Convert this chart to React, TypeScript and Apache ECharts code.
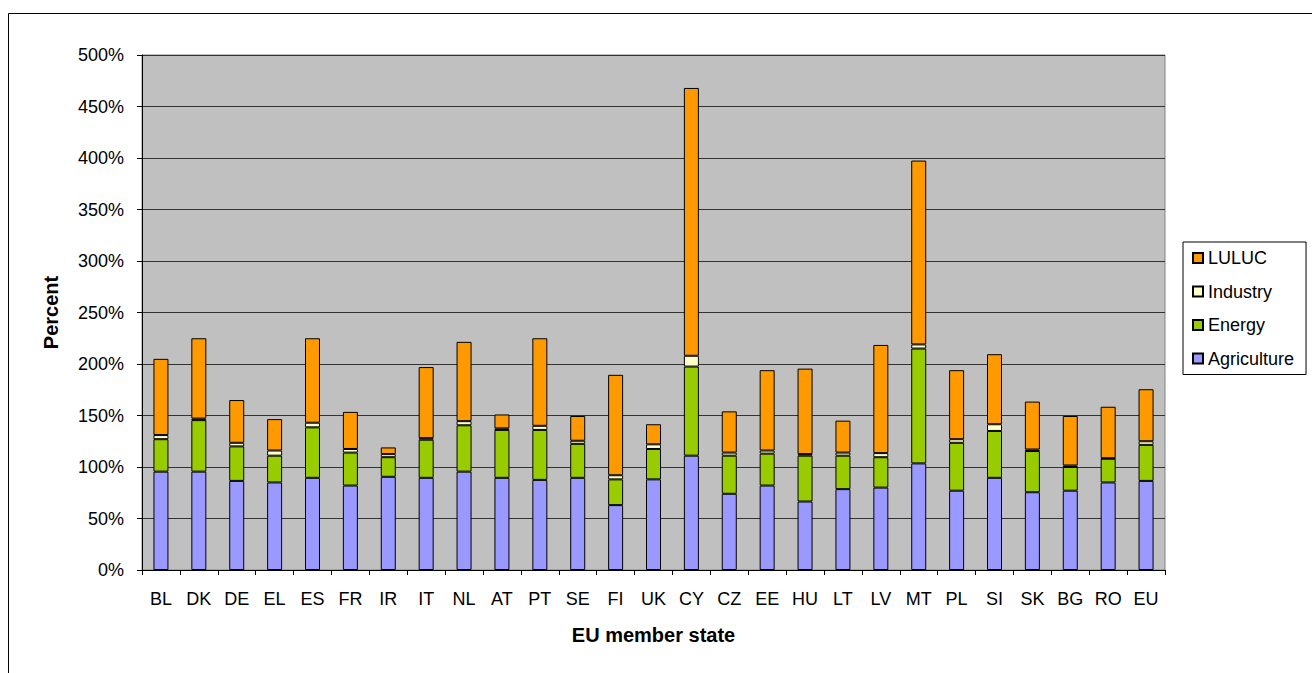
import React, { useEffect, useRef } from "react";
import * as echarts from "echarts";

const categories = ["BL","DK","DE","EL","ES","FR","IR","IT","NL","AT","PT","SE","FI","UK","CY","CZ","EE","HU","LT","LV","MT","PL","SI","SK","BG","RO","EU"];
const agriculture = [95.5,95.5,86.5,85,89.5,82,90.5,89.5,95.5,89.5,87.5,89.5,63,88,111,74,82,66.5,78.5,80,103.5,77,89.5,75.5,77,85,86.5];
const energy = [31.5,50,33.5,26,49,32,19,37,45,46.5,48.5,33,25,29.5,86.5,37,31,44.5,32.5,29.5,111.5,46.5,45.5,40,23,23,35];
const industry = [4,1.5,3.5,5,4.5,3.5,3,1.5,4,1.5,4,3,4,4.5,10.5,3,3,1.5,3,4,4,3.5,6.5,1.5,1.5,0.5,3.5];
const luluc = [74,78,41.5,30.5,82,36,6.5,69,77,13.5,85,24,97.5,19.5,260,40,78,83,31,105,178.5,67,68,46.5,48,50,50.5];
const yTicks = { min: 0, max: 500, interval: 50 };

const FONT = "'Liberation Sans', Arial, Helvetica, sans-serif";

export default function App() {
  const ref = useRef<HTMLDivElement>(null);
  useEffect(() => {
    if (!ref.current) return;
    const chart = echarts.init(ref.current, null, { renderer: "svg" });
    const mk = (name: string, data: number[], color: string) => ({
      name,
      type: "bar",
      stack: "total",
      data,
      barWidth: 15,
      itemStyle: { color, borderColor: "#000", borderWidth: 1 },
    });
    chart.setOption({
      animation: false,
      backgroundColor: "#fff",
      textStyle: { fontFamily: FONT, color: "#000" },
      graphic: [
        {
          type: "rect",
          shape: { x: 8.5, y: 13.5, width: 1400, height: 800 },
          style: { fill: "none", stroke: "#000", lineWidth: 1 },
          silent: true,
          z: 100,
        },
      ],
      grid: {
        left: 142,
        top: 55,
        right: 147,
        bottom: 103,
        show: true,
        backgroundColor: "#c0c0c0",
        borderColor: "#808080",
        borderWidth: 1,
      },
      legend: {
        orient: "vertical",
        left: 1183,
        top: 242,
        data: ["LULUC", "Industry", "Energy", "Agriculture"],
        itemWidth: 10,
        itemHeight: 10,
        itemGap: 15.5,
        icon: "rect",
        padding: [7, 12, 7, 9],
        backgroundColor: "#fff",
        borderColor: "#000",
        borderWidth: 1,
        borderRadius: 0,
        textStyle: { fontFamily: FONT, fontSize: 18, color: "#000" },
      },
      xAxis: {
        type: "category",
        data: categories,
        name: "EU member state",
        nameLocation: "middle",
        nameGap: 55,
        nameTextStyle: { fontFamily: FONT, fontSize: 20, fontWeight: "bold", color: "#000" },
        axisLine: { lineStyle: { color: "#000", width: 1 } },
        axisTick: { show: true, length: 5, lineStyle: { color: "#000" } },
        axisLabel: { fontFamily: FONT, fontSize: 18, color: "#000", margin: 20, interval: 0 },
        splitLine: { show: false },
      },
      yAxis: {
        type: "value",
        min: yTicks.min,
        max: yTicks.max,
        interval: yTicks.interval,
        name: "Percent",
        nameLocation: "middle",
        nameGap: 81,
        nameTextStyle: { fontFamily: FONT, fontSize: 20, fontWeight: "bold", color: "#000" },
        axisLine: { show: true, lineStyle: { color: "#000", width: 1 } },
        axisTick: { show: true, length: 5, lineStyle: { color: "#000" } },
        axisLabel: { fontFamily: FONT, fontSize: 18, color: "#000", margin: 18, formatter: "{value}%" },
        splitLine: { show: true, lineStyle: { color: "#333", width: 1 } },
      },
      series: [
        mk("Agriculture", agriculture, "#9999ff"),
        mk("Energy", energy, "#99cc00"),
        mk("Industry", industry, "#ffffcc"),
        mk("LULUC", luluc, "#ff9900"),
      ],
    });
    return () => chart.dispose();
  }, []);
  return (
    <div
      ref={ref}
      style={{ position: "absolute", left: 0, top: 0, width: 1312, height: 673, background: "#fff" }}
    />
  );
}
